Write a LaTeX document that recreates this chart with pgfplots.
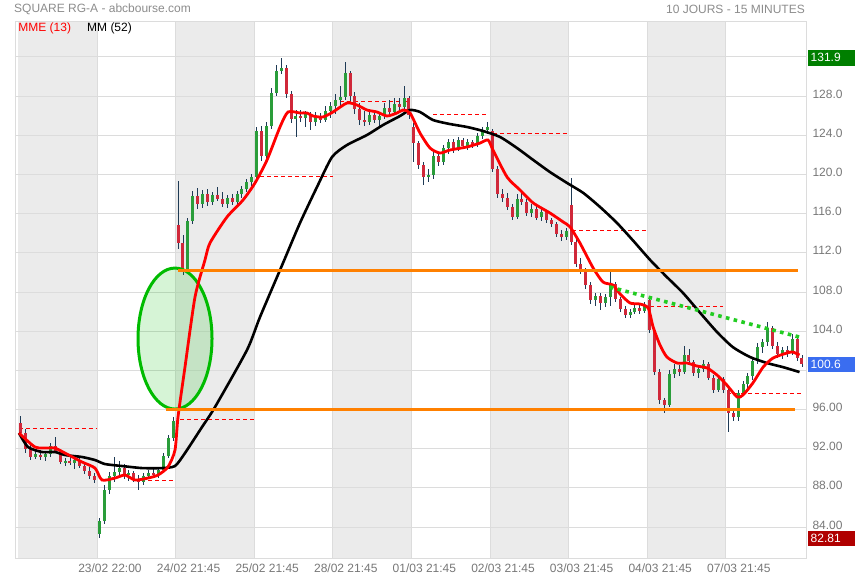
\documentclass[border=0pt]{standalone}
\usepackage{pgfplots}
\pgfplotsset{compat=1.18}
\usepackage{pgfplotstable}
\usepackage{fontspec}
\setmainfont{Liberation Sans}

\definecolor{bandgray}{HTML}{EBEBEB}
\definecolor{gridgray}{HTML}{DCDCDC}
\definecolor{txtgray}{HTML}{777777}
\definecolor{titlegray}{HTML}{8C8C8C}
\definecolor{upgreen}{HTML}{2A9D3A}
\definecolor{downred}{HTML}{D0283A}
\definecolor{wick}{HTML}{1E3A55}
\definecolor{mmered}{HTML}{FF0000}
\definecolor{lvlorange}{HTML}{FF8000}
\definecolor{ellgreen}{HTML}{00BB00}
\definecolor{dotgreen}{HTML}{22CC22}
\definecolor{boxgreen}{HTML}{007F00}
\definecolor{boxblue}{HTML}{3A6DF0}
\definecolor{boxred}{HTML}{B00000}

\tikzset{valbox/.style={anchor=west, text=white, font=\fontsize{12}{14}\selectfont,
    minimum width=47pt, minimum height=15.5pt, inner sep=1pt, align=left, text width=42pt}}

% 15-minute candles, 16 per trading day: x o h l c
\pgfplotstableread{
x o h l c
0 94.6 95.3 93.3 93.6
1 93.6 94.0 91.6 92.0
2 92.0 92.4 90.8 91.2
3 91.2 91.8 90.9 91.5
4 91.4 91.9 90.8 91.1
5 91.1 91.7 90.7 91.5
6 91.5 92.6 91.2 92.3
7 92.3 93.2 91.6 91.8
8 91.8 92.0 90.4 90.6
9 90.6 91.0 90.2 90.7
10 90.7 91.2 90.3 90.5
11 90.5 91.0 89.9 90.8
12 90.8 91.0 90.0 90.2
13 90.2 90.5 89.4 89.7
14 89.7 90.1 88.9 89.2
15 89.2 89.5 88.5 88.8
16 83.3 84.9 82.9 84.6
17 84.6 88.3 84.3 87.8
18 87.8 89.6 87.4 89.2
19 89.2 91.1 88.6 89.6
20 89.6 90.7 89.0 90.0
21 90.0 90.4 88.9 89.3
22 89.3 89.8 88.7 89.5
23 89.5 89.7 88.6 88.9
24 88.9 89.3 87.8 88.6
25 88.6 89.5 88.3 89.2
26 89.2 89.8 88.9 89.5
27 89.5 90.1 89.1 89.3
28 89.3 90.0 89.0 89.8
29 89.8 91.6 89.6 91.3
30 91.3 93.4 91.0 93.1
31 93.1 95.2 92.8 94.8
32 114.8 119.3 112.4 113.0
33 113.0 113.8 109.7 110.3
34 110.3 115.6 110.0 115.2
35 115.2 118.3 114.9 117.8
36 117.8 118.6 116.5 117.0
37 117.0 118.4 116.6 118.0
38 118.0 118.5 116.8 117.2
39 117.2 118.2 116.9 117.9
40 117.9 118.7 117.3 117.5
41 117.5 118.2 116.7 117.0
42 117.0 117.9 116.6 117.6
43 117.6 118.0 116.9 117.2
44 117.2 118.3 117.0 118.0
45 118.0 118.8 117.6 118.5
46 118.5 119.5 118.2 119.2
47 119.2 120.0 118.8 119.7
48 119.7 124.8 119.5 124.4
49 124.4 124.9 121.4 121.9
50 121.9 125.3 121.6 124.9
51 124.9 128.8 124.6 128.3
52 128.3 131.2 128.0 130.6
53 130.6 131.9 130.2 130.9
54 130.9 131.2 127.8 128.2
55 128.2 128.5 125.2 125.7
56 125.7 126.6 123.8 126.0
57 126.0 126.6 125.3 125.8
58 125.8 126.5 124.8 126.2
59 126.2 126.4 124.5 125.3
60 125.3 126.4 124.9 126.0
61 126.0 126.3 125.2 125.6
62 125.6 127.0 125.3 126.5
63 126.5 127.4 125.8 127.0
64 127.0 128.2 126.2 127.6
65 127.6 129.0 127.0 127.9
66 127.9 131.5 127.6 130.4
67 130.4 130.6 127.5 128.0
68 128.0 128.4 126.2 126.7
69 126.7 127.3 125.0 125.6
70 125.6 126.5 124.9 125.3
71 125.3 126.5 125.0 126.1
72 126.1 126.6 125.2 125.6
73 125.6 126.4 124.9 126.0
74 126.0 127.3 125.7 126.8
75 126.8 127.6 126.0 126.4
76 126.4 127.8 126.1 127.2
77 127.2 127.8 126.5 126.9
78 126.9 129.0 126.6 127.8
79 127.8 128.0 125.7 126.1
80 124.8 125.2 121.3 123.2
81 123.2 123.4 120.5 121.0
82 121.0 121.3 118.9 119.7
83 119.7 120.6 119.2 119.9
84 119.9 122.3 119.5 121.9
85 121.9 122.2 120.9 121.3
86 121.3 123.0 121.0 122.7
87 122.7 123.6 122.1 123.3
88 123.3 123.6 122.2 122.6
89 122.6 123.8 122.4 123.5
90 123.5 123.7 122.6 122.9
91 122.9 123.6 122.5 123.3
92 123.3 123.5 122.7 123.0
93 123.0 124.2 122.8 123.9
94 123.9 124.8 123.6 124.5
95 124.5 125.3 124.1 124.8
96 124.4 124.6 120.2 120.6
97 120.6 120.9 117.6 118.0
98 118.0 118.5 117.2 117.6
99 117.6 118.1 116.4 116.7
100 116.7 117.0 115.3 115.6
101 115.6 118.0 115.4 117.5
102 117.5 118.2 116.9 117.2
103 117.2 117.5 115.8 116.1
104 116.1 117.0 115.6 116.5
105 116.5 116.8 115.3 115.6
106 115.6 116.6 115.2 116.2
107 116.2 116.4 115.0 115.3
108 115.3 115.6 114.6 114.9
109 114.9 115.1 113.6 113.9
110 113.9 114.3 113.2 113.6
111 113.6 114.5 113.3 114.2
112 116.9 119.6 112.8 113.1
113 113.1 113.4 110.5 110.9
114 110.9 111.5 109.8 110.2
115 110.2 110.4 108.3 108.7
116 108.7 109.0 106.8 107.2
117 107.2 107.9 106.6 107.6
118 107.6 107.9 106.2 106.9
119 106.9 107.8 106.5 107.5
120 107.5 110.3 106.6 108.8
121 108.8 109.0 107.0 107.3
122 107.3 107.5 106.0 106.3
123 106.3 106.6 105.3 105.6
124 105.6 106.3 105.3 106.0
125 106.0 106.8 105.7 106.4
126 106.4 106.9 105.8 106.1
127 106.1 107.0 105.9 106.7
128 107.2 107.5 103.8 104.1
129 104.1 104.3 99.5 99.8
130 99.8 100.1 96.6 97.0
131 97.0 97.2 95.6 96.5
132 96.5 100.0 96.3 99.6
133 99.6 100.6 99.2 100.1
134 100.1 100.5 99.4 99.8
135 99.8 102.5 99.6 101.6
136 101.6 102.2 100.6 100.9
137 100.9 101.1 99.4 99.7
138 99.7 100.4 99.2 100.1
139 100.1 101.1 99.8 100.6
140 100.6 100.8 99.0 99.2
141 99.2 99.5 97.7 98.0
142 98.0 99.4 97.8 99.1
143 99.1 99.3 97.7 98.0
144 98.0 98.2 93.7 95.6
145 95.6 96.0 94.8 95.2
146 95.2 98.0 94.8 97.7
147 97.7 98.9 97.4 98.6
148 98.6 99.7 98.2 99.4
149 99.4 101.3 99.0 101.0
150 101.0 102.8 100.6 102.4
151 102.4 103.2 101.8 102.9
152 102.9 104.9 102.5 104.3
153 104.3 104.5 102.2 102.5
154 102.5 102.9 101.3 101.7
155 101.7 102.4 101.2 102.1
156 102.1 102.5 101.4 101.8
157 101.8 103.7 101.6 103.2
158 103.2 103.4 101.0 101.3
159 101.3 101.6 100.3 100.6
}\candles

\begin{document}
\begin{tikzpicture}
\begin{axis}[
    at={(0pt,0pt)}, anchor=south west,
    scale only axis,
    width=791pt, height=537pt,
    xmin=-1.19, xmax=159.82,
    ymin=80.84, ymax=135.66,
    set layers,
    axis line style={draw=gridgray, line width=0.8pt},
    major tick length=0pt,
    xtick={15.5,31.5,47.5,63.5,79.5,95.5,111.5,127.5,143.5},
    xticklabels={23/02 22:00,24/02 21:45,25/02 21:45,28/02 21:45,01/03 21:45,02/03 21:45,03/03 21:45,04/03 21:45,07/03 21:45},
    ytick={84,88,92,96,104,108,112,116,120,124,128},
    yticklabels={84.00,88.00,92.00,96.00,104.0,108.0,112.0,116.0,120.0,124.0,128.0},
    extra y ticks={100,132},
    extra y tick labels={},
    yticklabel pos=right,
    tick label style={font=\fontsize{12}{14}\selectfont, text=txtgray},
    xticklabel style={yshift=-2pt, xshift=13pt},
    yticklabel style={anchor=west, xshift=3pt, yshift=2pt},
    grid=major,
    major grid style={draw=gridgray, line width=0.8pt},
    extra tick style={grid=major, major grid style={draw=gridgray, line width=0.8pt}},
    candle/.style={only marks, mark=*, mark size=0pt, mark options={draw=none, fill=none}},
]
% shaded trading days
\begin{pgfonlayer}{axis background}
\fill[bandgray] (axis cs:-0.5,80.84) rectangle (axis cs:15.5,135.66);
\fill[bandgray] (axis cs:31.5,80.84) rectangle (axis cs:47.5,135.66);
\fill[bandgray] (axis cs:63.5,80.84) rectangle (axis cs:79.5,135.66);
\fill[bandgray] (axis cs:95.5,80.84) rectangle (axis cs:111.5,135.66);
\fill[bandgray] (axis cs:127.5,80.84) rectangle (axis cs:143.5,135.66);
\end{pgfonlayer}

% previous close levels
\pgfplotsset{prevclose/.style={mmered, line width=0.8pt, dash pattern=on 4pt off 3pt}}
\addplot[prevclose] coordinates {(-0.38,94.1) (15.5,94.1)};
\addplot[prevclose] coordinates {(25.9,88.8) (31.5,88.8)};
\addplot[prevclose] coordinates {(32.4,95.0) (47.7,95.0)};
\addplot[prevclose] coordinates {(48.7,119.8) (63.5,119.8)};
\addplot[prevclose] coordinates {(65.0,127.5) (79.2,127.5)};
\addplot[prevclose] coordinates {(83.9,126.1) (95.1,126.1)};
\addplot[prevclose] coordinates {(96.1,124.2) (111.2,124.2)};
\addplot[prevclose] coordinates {(112.2,114.3) (127.5,114.3)};
\addplot[prevclose] coordinates {(128.1,106.5) (143.0,106.5)};
\addplot[prevclose] coordinates {(143.7,97.6) (159.0,97.6)};

% candles: wicks, then bodies
\addplot[candle,
    error bars/.cd, y dir=both, y explicit, error mark=none,
    error bar style={line width=0.9pt, wick}]
    table[x=x, y expr=(\thisrow{h}+\thisrow{l})/2, y error expr=(\thisrow{h}-\thisrow{l})/2] {\candles};
\addplot[candle,
    error bars/.cd, y dir=both, y explicit, error mark=none,
    error bar style={line width=3pt, upgreen}]
    table[x=x, y expr={\thisrow{c}>=\thisrow{o} ? (\thisrow{o}+\thisrow{c})/2 : nan},
          y error expr=abs(\thisrow{c}-\thisrow{o})/2] {\candles};
\addplot[candle,
    error bars/.cd, y dir=both, y explicit, error mark=none,
    error bar style={line width=3pt, downred}]
    table[x=x, y expr={\thisrow{c}<\thisrow{o} ? (\thisrow{o}+\thisrow{c})/2 : nan},
          y error expr=abs(\thisrow{c}-\thisrow{o})/2] {\candles};

% highlighted breakout zone
\draw[ellgreen, line width=3pt, fill=ellgreen, fill opacity=0.16]
    (axis cs:31.38,103.24) ellipse [x radius=37pt, y radius=70.5pt];

% MM (52)
\addplot[black, line width=2.6pt, smooth, tension=0.4] coordinates {
(-0.38,93.60) (1.45,92.17) (4.30,91.66) (6.95,91.66) (8.99,91.35) (12.45,91.15)
(15.09,90.84) (17.13,90.43) (20.59,90.23) (24.66,90.02) (28.73,90.02) (31.38,90.23)
(33.41,91.55) (36.88,94.21) (39.52,96.25) (46.03,102.07) (48.68,105.44) (53.36,110.95)
(56.82,115.04) (60.28,118.71) (63.34,121.77) (66.39,123.00) (70.46,124.02) (73.72,125.04)
(77.18,125.96) (79.22,126.57) (81.25,126.37) (83.90,125.55) (87.36,125.14) (90.82,124.84)
(94.08,124.43) (97.54,123.82) (101.0,122.69) (104.3,121.47) (107.7,120.24) (111.2,119.12)
(114.5,118.10) (117.9,116.67) (121.35,115.04) (124.7,113.2) (128.1,111.26) (131.5,109.52)
(134.8,107.89) (138.3,105.85) (141.7,103.91) (144.9,102.38) (148.4,101.36) (151.9,100.74)
(155.1,100.33) (158.5,99.82)};

% MME (13)
\addplot[mmered, line width=2.8pt, smooth, tension=0.4] coordinates {
(-0.38,93.60) (2.88,92.17) (5.52,92.07) (6.95,92.07) (8.99,91.55) (12.45,90.64)
(15.09,90.02) (16.52,88.80) (19.16,89.00) (21.20,89.31) (23.23,88.80) (25.88,89.00)
(27.92,89.31) (29.95,90.13) (31.38,91.86) (31.99,95.23) (33.41,100.33) (35.45,107.48)
(37.48,111.26) (38.50,113.00) (41.96,115.65) (45.22,117.38) (47.66,119.12) (50.11,121.47)
(52.75,124.84) (54.38,126.37) (56.82,126.27) (58.25,126.27) (59.47,125.96) (61.50,125.86)
(63.54,126.37) (66.39,127.29) (68.43,127.08) (70.46,126.57) (72.50,126.37) (74.53,125.96)
(76.57,126.27) (77.79,126.57) (79.22,126.27) (81.25,124.22) (83.29,122.69) (85.32,122.18)
(87.36,122.49) (90.82,122.80) (93.47,123.20) (95.10,123.51) (96.11,122.49) (98.97,119.73)
(101.6,118.41) (104.3,117.08) (107.7,116.06) (110.4,115.14) (111.8,114.63) (113.8,113.00)
(116.5,110.44) (118.5,109.01) (120.5,108.71) (121.96,107.80) (124.0,106.87) (126.0,106.77)
(127.7,106.36) (128.7,104.42) (130.1,102.58) (131.5,101.36) (133.6,100.74) (135.6,100.74)
(137.6,100.44) (139.7,100.23) (141.7,99.52) (143.7,98.50) (145.8,97.27) (147.0,97.48)
(149.0,98.70) (151.1,100.33) (153.1,101.25) (155.9,101.76) (157.1,101.87) (158.5,101.56)};

% support / resistance
\addplot[lvlorange, line width=3.6pt] coordinates {(31.99,110.2) (158.2,110.2)};
\addplot[lvlorange, line width=3.6pt] coordinates {(29.5,96.0) (157.6,96.0)};
\addplot[dotgreen, line width=3.6pt, dash pattern=on 3.6pt off 4.4pt] coordinates {(119.9,108.5) (159.2,103.3)};

% legend
\node[anchor=west, text=mmered, font=\fontsize{12}{14}\selectfont, inner sep=0pt]
    at (rel axis cs:0.004,0.987) {MME (13)};
\node[anchor=west, text=black, font=\fontsize{12}{14}\selectfont, inner sep=0pt]
    at (rel axis cs:0.091,0.987) {MM (52)};
\end{axis}

% value boxes on the price scale (y = (v - ymin) * 537/54.82)
\node[valbox, fill=boxgreen] at (793pt,500.2pt) {131.9};
\node[valbox, fill=boxblue] at (793pt,193.6pt) {100.6};
\node[valbox, fill=boxred] at (793pt,19.3pt) {82.81};

\node[anchor=west, text=titlegray, font=\fontsize{12}{14}\selectfont, inner sep=0pt] at (-1pt,549pt) {SQUARE RG-A - abcbourse.com};
\node[anchor=east, text=titlegray, font=\fontsize{12}{14}\selectfont, inner sep=0pt] at (790pt,549pt) {10 JOURS - 15 MINUTES};

\pgfresetboundingbox
\useasboundingbox (-15pt,-22pt) rectangle (840pt,558pt);
\end{tikzpicture}
\end{document}
